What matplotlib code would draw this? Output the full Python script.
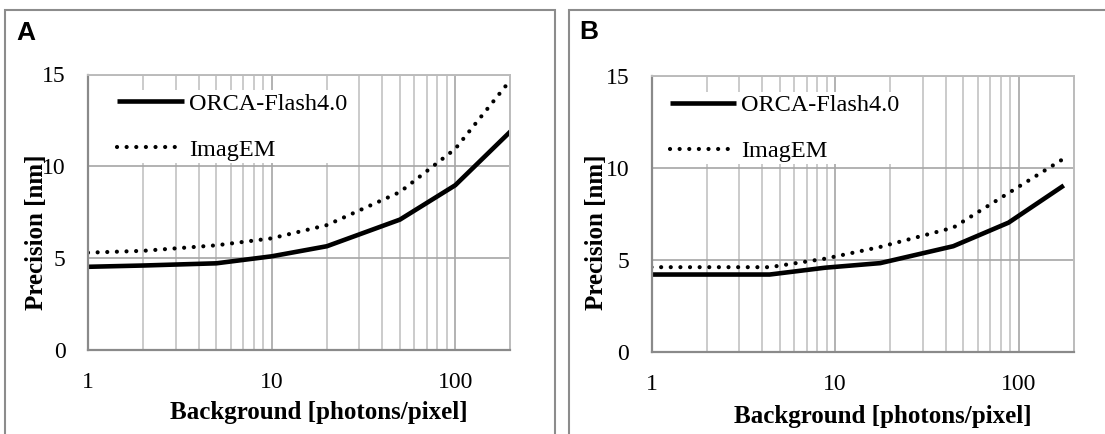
import numpy as np
import matplotlib
matplotlib.use('Agg')
import matplotlib.pyplot as plt
from matplotlib.patches import Rectangle

# panel A
bg_a = [1, 2, 5, 10, 20, 50, 100, 200]
orca_a = [4.53, 4.6, 4.72, 5.1, 5.65, 7.1, 8.97, 11.9]
imagem_a = [5.3, 5.4, 5.7, 6.08, 6.8, 8.6, 10.95, 14.7]

# panel B
bg_b = [1, 1.76, 4.4, 8.8, 17.6, 44, 88, 176]
orca_b = [4.21, 4.21, 4.21, 4.58, 4.83, 5.75, 7.03, 9.05]
imagem_b = [4.61, 4.61, 4.61, 5.07, 5.71, 6.76, 8.64, 10.51]

series_names = ['ORCA-Flash4.0', 'ImagEM']
yticks = [0, 5, 10, 15]
xlabel = 'Background [photons/pixel]'
ylabel = 'Precision [nm]'

W, H = 1105, 434
SERIF = 'Liberation Serif'

fig = plt.figure(figsize=(W / 100, H / 100), dpi=100)


def px_axes(l, t, r, b):
    return fig.add_axes([l / W, 1 - b / H, (r - l) / W, (b - t) / H])


def setup(ax):
    ax.set_xscale('log')
    ax.set_xlim(1, 200)
    ax.set_ylim(0, 15)
    ax.set_yticks(yticks)
    ax.set_xticks([1, 10, 100])
    ax.set_xticklabels(['1', '10', '100'])
    ax.xaxis.set_minor_locator(matplotlib.ticker.LogLocator(base=10, subs=np.arange(2, 10)))
    ax.xaxis.set_minor_formatter(matplotlib.ticker.NullFormatter())
    ax.tick_params(which='both', length=0)
    ax.tick_params(axis='y', pad=16)
    ax.tick_params(axis='x', pad=16)
    for lab in ax.get_xticklabels() + ax.get_yticklabels():
        lab.set_fontfamily(SERIF)
        lab.set_fontsize(17)
    ax.grid(True, which='major', axis='both', color='#a6a6a6', lw=1.2)
    ax.grid(True, which='minor', axis='x', color='#c2c2c2', lw=1.2)
    ax.set_axisbelow(True)
    for s in ['left', 'bottom']:
        ax.spines[s].set_color('#8a8a8a')
        ax.spines[s].set_linewidth(1.6)
    for s in ['top', 'right']:
        ax.spines[s].set_color('#bcbcbc')
        ax.spines[s].set_linewidth(1.4)


def draw(ax, x, y1, y2, leg_x, lab_xy, ylab_xy):
    ax.plot(x, y1, color='black', lw=3.3, solid_capstyle='butt', label=series_names[0])
    ax.plot(x, y2, color='black', lw=3.0, linestyle=(0, (0.01, 2.3)),
            dash_capstyle='round', label=series_names[1])
    ax.legend(loc='upper left', bbox_to_anchor=(leg_x, 0.942), borderaxespad=0,
              borderpad=0.1, handlelength=2.75, handletextpad=0.2, labelspacing=0.97,
              frameon=True, fancybox=False, framealpha=1, facecolor='white',
              edgecolor='none', prop={'family': SERIF, 'size': 17.5})
    ax.text(lab_xy[0], lab_xy[1], xlabel, transform=ax.transAxes, ha='center', va='center',
            fontfamily=SERIF, fontweight='bold', fontsize=18)
    ax.text(ylab_xy[0], ylab_xy[1], ylabel, transform=ax.transAxes, ha='center', va='center',
            rotation=90, fontfamily=SERIF, fontweight='bold', fontsize=18)


ax_a = px_axes(88, 74.5, 510.5, 350)
setup(ax_a)
draw(ax_a, bg_a, orca_a, imagem_a, 0.064, (0.547, -0.228), (-0.123, 0.428))

ax_b = px_axes(651.5, 76, 1074, 352)
setup(ax_b)
draw(ax_b, bg_b, orca_b, imagem_b, 0.037, (0.548, -0.235), (-0.131, 0.435))

# panel frames
fig.patches.append(Rectangle((5 / W, -0.1), 550 / W, 1.1 - 10 / H, transform=fig.transFigure,
                             fill=False, edgecolor='#8c8c8c', lw=1.5))
fig.patches.append(Rectangle((569 / W, -0.1), 600 / W, 1.1 - 10 / H, transform=fig.transFigure,
                             fill=False, edgecolor='#8c8c8c', lw=1.5))

fig.text(16 / W, 1 - 40 / H, 'A', ha='left', va='baseline', fontfamily='Liberation Sans',
         fontweight='bold', fontsize=19)
fig.text(579 / W, 1 - 39 / H, 'B', ha='left', va='baseline', fontfamily='Liberation Sans',
         fontweight='bold', fontsize=19)

fig.savefig('out.png', dpi=100)
